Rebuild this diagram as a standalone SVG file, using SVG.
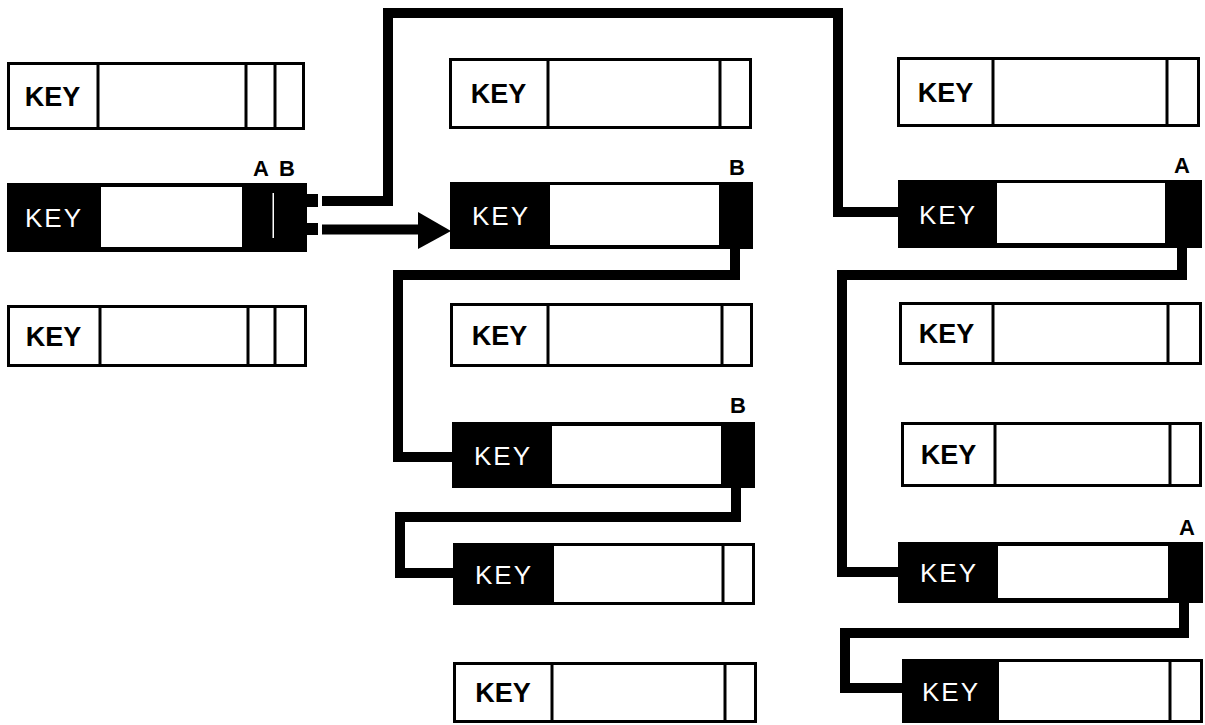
<svg xmlns="http://www.w3.org/2000/svg" width="1205" height="725" viewBox="0 0 1205 725">
<style>
.bg{fill:#fff}
.rec{fill:#fff;stroke:#000;stroke-width:3}
.dv{stroke:#000;stroke-width:3}
.blk{fill:#000}
.wht{fill:#fff}
.kb{font-family:"Liberation Sans",Arial,sans-serif;font-weight:bold;font-size:27px;fill:#000;text-anchor:middle}
.kw{font-family:"Liberation Sans",Arial,sans-serif;font-size:26px;fill:#fff;letter-spacing:2px;text-anchor:middle}
.lb{font-family:"Liberation Sans",Arial,sans-serif;font-weight:bold;font-size:22px;fill:#000;text-anchor:middle}
.cn{fill:none;stroke:#000;stroke-width:10;stroke-linejoin:miter;stroke-linecap:butt}
</style>
<rect class="bg" x="0" y="0" width="1205" height="725"/>

<g id="L1">
<rect class="rec" x="8.5" y="63.5" width="295" height="65"/>
<line class="dv" x1="98" y1="63" x2="98" y2="129"/>
<line class="dv" x1="246" y1="63" x2="246" y2="129"/>
<line class="dv" x1="275" y1="63" x2="275" y2="129"/>
<text class="kb" x="52.5" y="105.5">KEY</text>
</g>

<g id="L2">
<rect class="blk" x="7" y="183" width="300" height="69"/>
<rect class="wht" x="101" y="187" width="141" height="60"/>
<rect class="wht" x="272.5" y="193" width="1.5" height="45"/>
<text class="kw" x="54" y="227">KEY</text>
<text class="lb" x="261" y="176">A</text>
<text class="lb" x="287" y="176">B</text>
</g>

<g id="L3">
<rect class="rec" x="8.5" y="306.5" width="297" height="59"/>
<line class="dv" x1="100" y1="306" x2="100" y2="366"/>
<line class="dv" x1="248" y1="306" x2="248" y2="366"/>
<line class="dv" x1="275" y1="306" x2="275" y2="366"/>
<text class="kb" x="53.5" y="345.5">KEY</text>
</g>

<g id="M1">
<rect class="rec" x="450.5" y="59.5" width="300" height="68"/>
<line class="dv" x1="548" y1="59" x2="548" y2="128"/>
<line class="dv" x1="720" y1="59" x2="720" y2="128"/>
<text class="kb" x="498.5" y="103">KEY</text>
</g>

<g id="M2">
<rect class="blk" x="450" y="182" width="303" height="67"/>
<rect class="wht" x="550" y="185" width="169" height="60"/>
<text class="kw" x="501" y="225">KEY</text>
<text class="lb" x="737" y="175">B</text>
</g>

<g id="M3">
<rect class="rec" x="451.5" y="304.5" width="300" height="61"/>
<line class="dv" x1="548" y1="304" x2="548" y2="366"/>
<line class="dv" x1="722" y1="304" x2="722" y2="366"/>
<text class="kb" x="499.5" y="344.5">KEY</text>
</g>

<g id="M4">
<rect class="blk" x="452" y="422" width="303" height="66"/>
<rect class="wht" x="552" y="426" width="169" height="58"/>
<text class="kw" x="503" y="465">KEY</text>
<text class="lb" x="738" y="413">B</text>
</g>

<g id="M5">
<rect class="rec" x="454.5" y="544.5" width="299" height="59"/>
<rect class="blk" x="453" y="543" width="101" height="62"/>
<line class="dv" x1="723" y1="544" x2="723" y2="604"/>
<text class="kw" x="504" y="584">KEY</text>
</g>

<g id="M6">
<rect class="rec" x="454.5" y="663.5" width="301" height="58"/>
<line class="dv" x1="552" y1="663" x2="552" y2="722"/>
<line class="dv" x1="725" y1="663" x2="725" y2="722"/>
<text class="kb" x="503" y="702">KEY</text>
</g>

<g id="R1">
<rect class="rec" x="898.5" y="58.5" width="300" height="67"/>
<line class="dv" x1="993" y1="58" x2="993" y2="126"/>
<line class="dv" x1="1167" y1="58" x2="1167" y2="126"/>
<text class="kb" x="945.5" y="101.5">KEY</text>
</g>

<g id="R2">
<rect class="blk" x="898" y="180" width="304" height="68"/>
<rect class="wht" x="997" y="183" width="168" height="60"/>
<text class="kw" x="948" y="223.5">KEY</text>
<text class="lb" x="1182" y="173">A</text>
</g>

<g id="R3">
<rect class="rec" x="900.5" y="303.5" width="300" height="60"/>
<line class="dv" x1="993" y1="303" x2="993" y2="364"/>
<line class="dv" x1="1168" y1="303" x2="1168" y2="364"/>
<text class="kb" x="946.5" y="343">KEY</text>
</g>

<g id="R4">
<rect class="rec" x="902.5" y="423.5" width="298" height="62"/>
<line class="dv" x1="995" y1="423" x2="995" y2="486"/>
<line class="dv" x1="1170" y1="423" x2="1170" y2="486"/>
<text class="kb" x="948.5" y="464">KEY</text>
</g>

<g id="R5">
<rect class="blk" x="898" y="542" width="305" height="61"/>
<rect class="wht" x="998" y="546" width="170" height="52"/>
<text class="kw" x="949" y="582">KEY</text>
<text class="lb" x="1187" y="535">A</text>
</g>

<g id="R6">
<rect class="rec" x="903.5" y="660.5" width="298" height="61"/>
<rect class="blk" x="902" y="659" width="97" height="64"/>
<line class="dv" x1="1170" y1="660" x2="1170" y2="722"/>
<text class="kw" x="951" y="700.5">KEY</text>
</g>

<g id="connectors">
<rect class="blk" x="306" y="194" width="12" height="13"/>
<rect class="blk" x="306" y="223" width="12" height="12"/>
<path class="cn" d="M322,201 H388 V13 H838 V212 H899"/>
<path class="cn" d="M322,229.5 H420"/>
<polygon class="blk" points="418,212 451,231 418,249"/>
<path class="cn" d="M735,249 V275 H398 V457 H453"/>
<path class="cn" d="M736,488 V517 H400 V573 H454"/>
<path class="cn" d="M1182,248 V275 H842 V572 H899"/>
<path class="cn" d="M1184,603 V633 H845 V688 H903"/>
</g>
</svg>
